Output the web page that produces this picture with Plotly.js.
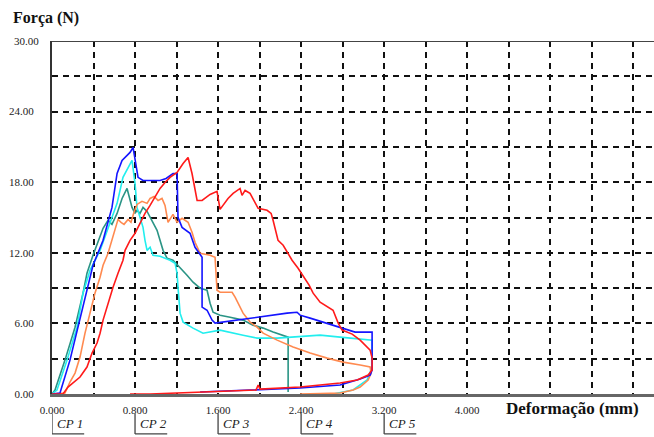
<!DOCTYPE html>
<html>
<head>
<meta charset="utf-8">
<script src="https://cdn.plot.ly/plotly-3.0.1.min.js"></script>
<style>html,body{margin:0;padding:0;background:#fff;}#chart{width:654px;height:437px;}</style>
</head>
<body>
<div id="chart"></div>
<script>
// ---- data (Deformação mm, Força N) ----
const seriesNames = ["CP 1", "CP 2", "CP 3", "CP 4", "CP 5"];

const cp1X = [0,0.077,0.173,0.289,0.395,0.492,0.578,0.627,0.675,0.752,0.781,0.829,0.877,1.041,1.099,1.166,1.205,1.214,1.253,1.330,1.378,1.446,1.446,1.446,1.494,1.542,1.571,1.783,1.937,2.101,2.265,2.361,2.390,2.487,2.612,2.776,2.920,3.084,3.084,3.065,2.969,2.776,2.390,1.908,1.427];
const cp1Y = [0,0.08,2.88,7.12,10.94,13.06,15.86,18.74,19.85,20.53,20.95,18.41,18.15,18.15,18.32,18.74,18.74,15.01,14.16,13.66,12.47,11.62,9.08,7.38,7.12,6.28,6.02,6.28,6.53,6.70,6.87,6.95,6.70,6.45,6.11,5.68,5.26,5.26,2.04,1.61,1.27,0.76,0.51,0.34,0.17];

const cp2X = [0,0.048,0.145,0.241,0.299,0.366,0.463,0.540,0.627,0.684,0.752,0.771,0.800,0.819,0.848,0.877,0.896,0.916,0.945,0.973,1.041,1.137,1.186,1.205,1.214,1.234,1.263,1.359,1.455,1.552,1.619,1.841,1.976,2.169,2.323,2.583,2.776,2.969,3.084,3.084,3.036,2.901,2.708,2.583];
const cp2Y = [0,0.34,2.88,5.68,8.57,10.52,12.21,14.16,16.20,18.41,19.59,19.85,17.90,15.86,15.01,14.16,13.06,12.21,12.47,11.79,11.70,11.37,11.11,10.26,9.08,6.87,6.11,5.60,5.17,5.34,5.43,5.00,4.75,4.75,4.83,5.00,4.83,4.66,4.58,2.29,1.19,0.34,0,0];

const cp3X = [0,0.029,0.125,0.222,0.299,0.337,0.395,0.492,0.540,0.578,0.627,0.675,0.723,0.752,0.771,0.800,0.819,0.848,0.877,0.916,0.964,1.012,1.070,1.108,1.166,1.234,1.301,1.359,1.427,1.494,1.523,1.552,1.619,1.716,1.841,1.937,2.034,2.130,2.275,2.275];
const cp3Y = [0,0.34,2.88,5.68,8.57,10.26,11.79,14.08,14.76,14.42,15.35,16.62,17.47,16.45,15.86,15.35,15.61,15.35,15.86,15.52,14.76,13.91,12.21,11.54,11.37,10.77,10.09,9.50,8.99,8.82,7.72,6.95,6.70,6.53,6.28,5.85,5.60,5.26,4.83,0.17];

const cp4X = [0,0.125,0.173,0.222,0.270,0.318,0.366,0.414,0.463,0.492,0.540,0.578,0.607,0.636,0.665,0.694,0.733,0.761,0.790,0.819,0.867,0.916,0.945,0.983,1.022,1.060,1.089,1.118,1.166,1.205,1.253,1.311,1.349,1.378,1.427,1.523,1.571,1.590,1.619,1.735,1.764,1.841,1.908,1.976,2.034,2.169,2.323,2.487,2.651,2.805,2.969,3.065,3.075,3.046,2.969,2.901,2.776,2.390];
const cp4Y = [0,0.08,1.02,1.78,3.14,5.17,6.87,8.57,9.92,10.94,11.96,13.06,14.08,14.84,14.59,14.42,14.84,14.59,15.44,16.11,16.37,16.20,16.62,16.79,16.45,16.62,16.03,14.59,15.27,14.59,14.93,14.59,13.74,12.89,11.96,11.79,11.62,8.82,8.65,8.65,8.23,6.87,6.11,5.68,5.17,4.58,3.99,3.48,3.05,2.71,2.46,2.29,1.78,1.19,0.59,0.34,0.08,0];

const cp5X = [0,0.106,0.154,0.202,0.270,0.337,0.386,0.434,0.463,0.492,0.540,0.588,0.636,0.684,0.704,0.752,0.800,0.848,0.896,0.945,0.993,1.041,1.089,1.137,1.205,1.263,1.311,1.349,1.398,1.446,1.523,1.590,1.619,1.648,1.696,1.745,1.812,1.831,1.860,1.908,1.957,1.986,2.072,2.111,2.130,2.159,2.178,2.227,2.265,2.313,2.371,2.429,2.477,2.516,2.583,2.708,2.757,2.795,2.892,2.969,3.065,3.084,3.084,3.046,2.940,2.776,2.612,2.390,2.005,1.986,1.966,1.523,1.205,0.945,0.752];
const cp5Y = [0,0,0.59,0.93,1.44,2.29,3.48,4.33,5.17,6.28,7.72,9.08,10.26,11.37,12.21,13.06,13.66,14.50,15.35,16.03,16.71,17.47,17.98,18.41,18.83,19.59,20.10,18.74,16.45,16.45,16.96,17.22,15.69,16.03,16.62,17.05,17.47,16.88,17.30,17.05,16.20,15.78,15.61,15.35,14.76,13.74,13.06,12.64,12.04,11.37,10.69,9.92,9.25,8.57,7.80,7.12,6.02,5.43,5.09,4.58,3.73,3.05,2.04,1.61,1.19,0.93,0.76,0.59,0.42,0.76,0.34,0.17,0.08,0,0];

const seriesColors = ["#1414ff", "#22eeee", "#2a9485", "#ff8a50", "#ff1a1a"];

// ticks
const xGridVals = [0,0.4,0.8,1.2,1.6,2.0,2.4,2.8,3.2,3.6,4.0,4.4,4.8,5.2,5.6];
const xTickText = ["0.000","","0.800","","1.600","","2.400","","3.200","","4.000","","","",""];
const yGridVals = [0,3,6,9,12,15,18,21,24,27,30];
const yTickText = ["0.00","","6.00","","12.00","","18.00","","24.00","",""];
const legendPos = [0, 0.8, 1.6, 2.4, 3.2];

const xs = [cp1X, cp2X, cp3X, cp4X, cp5X];
const ys = [cp1Y, cp2Y, cp3Y, cp4Y, cp5Y];
const drawOrder = [2, 1, 3, 0, 4];

const traces = drawOrder.map(i => ({
  type: "scatter", mode: "lines", name: seriesNames[i],
  x: xs[i], y: ys[i],
  line: {color: seriesColors[i], width: 1.6},
  hoverinfo: "skip"
}));

const serif = "Times New Roman, Liberation Serif, DejaVu Serif, serif";

const shapes = [
  // top border
  {type: "line", xref: "paper", yref: "y", x0: 0, x1: 1, y0: 30, y1: 30, line: {color: "#444", width: 2}}
];
const annotations = [
  {text: "<b>Força (N)</b>", xref: "paper", yref: "paper", x: -0.068, y: 1.065, xanchor: "left", yanchor: "middle", showarrow: false, font: {family: serif, size: 16, color: "#111", weight: "bold"}},
  {text: "<b>Deformação (mm)</b>", xref: "x", yref: "paper", x: 4.35, y: -0.04, xanchor: "left", yanchor: "middle", showarrow: false, font: {family: serif, size: 17, color: "#111", weight: "bold"}},
  {text: "30.00", xref: "paper", yref: "y", x: -0.067, y: 30, xanchor: "left", yanchor: "middle", showarrow: false, font: {family: serif, size: 11, color: "#222"}}
];
legendPos.forEach((p, i) => {
  shapes.push({type: "line", xref: "x", yref: "paper", x0: p, x1: p, y0: -0.055, y1: -0.113, line: {color: "#444", width: 1.3}});
  shapes.push({type: "line", xref: "x", yref: "paper", x0: p, x1: p + 0.31, y0: -0.113, y1: -0.113, line: {color: "#444", width: 1.3}});
  annotations.push({text: "<i>" + seriesNames[i] + "</i>", xref: "x", yref: "paper", x: p + 0.025, y: -0.083, xanchor: "left", yanchor: "middle", showarrow: false, font: {family: serif, size: 13, color: "#222"}});
});

const layout = {
  width: 654, height: 437,
  margin: {l: 52, r: 0, t: 41, b: 43},
  paper_bgcolor: "#fff", plot_bgcolor: "#fff",
  showlegend: false,
  font: {family: serif},
  xaxis: {
    range: [0, 5.8], fixedrange: true,
    tickmode: "array", tickvals: xGridVals, ticktext: xTickText,
    showgrid: true, gridcolor: "#111", gridwidth: 2, griddash: "6px,5px",
    showline: true, linecolor: "#666", linewidth: 3,
    zeroline: false, ticks: "", ticklabelstandoff: 4,
    tickfont: {family: serif, size: 11, color: "#222"}
  },
  yaxis: {
    range: [0, 30], fixedrange: true,
    tickmode: "array", tickvals: yGridVals, ticktext: yTickText,
    showgrid: true, gridcolor: "#111", gridwidth: 2, griddash: "6px,5px",
    showline: true, linecolor: "#333", linewidth: 2,
    zeroline: false, ticks: "", ticklabelstandoff: 14,
    tickfont: {family: serif, size: 11, color: "#222"}
  },
  shapes: shapes,
  annotations: annotations
};

Plotly.newPlot("chart", traces, layout, {staticPlot: true, displayModeBar: false});
</script>
</body>
</html>
